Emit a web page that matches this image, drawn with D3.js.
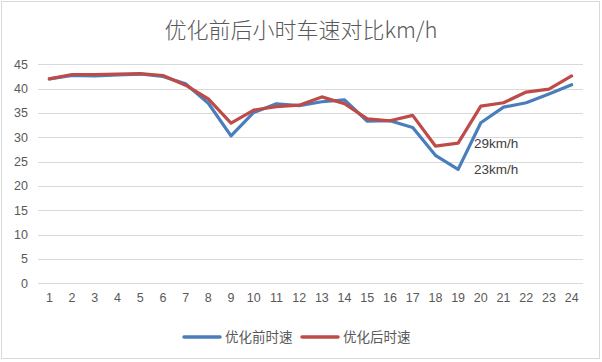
<!DOCTYPE html>
<html lang="zh">
<head>
<meta charset="utf-8">
<title>优化前后小时车速对比km/h</title>
<script src="https://d3js.org/d3.v7.min.js"></script>
<style>
  body { margin: 0; background: #fff; }
  svg text { font-family: "Noto Sans CJK SC", "Noto Sans", sans-serif; }
</style>
</head>
<body>
<svg id="chart" width="602" height="362"></svg>
<script>
// data
var hours = d3.range(1, 25);
var beforeSpeed = [42.0, 42.7, 42.6, 42.8, 43.0, 42.5, 41.0, 37.0, 30.3, 35.1, 36.9, 36.5,
                   37.3, 37.7, 33.3, 33.4, 32.0, 26.3, 23.4, 33.0, 36.2, 37.1, 38.9, 40.8];
var afterSpeed  = [42.0, 42.9, 42.9, 43.0, 43.1, 42.7, 40.7, 37.9, 32.9, 35.6, 36.3, 36.6,
                   38.3, 36.9, 33.8, 33.4, 34.5, 28.2, 28.8, 36.4, 37.1, 39.3, 39.9, 42.6];
var yTicks = [0, 5, 10, 15, 20, 25, 30, 35, 40, 45];
var seriesNames = ["优化前时速", "优化后时速"];
var seriesColors = ["#4a7ebb", "#be4b48"];
var notes = [{text: "29km/h", hour: 19, value: 28.8}, {text: "23km/h", hour: 19, value: 23.4}];

var svg = d3.select("#chart");

// outer frame
svg.append("rect")
    .attr("x", 1.5).attr("y", 1.5)
    .attr("width", 598).attr("height", 357)
    .attr("fill", "#fff")
    .attr("stroke", "#d9d9d9");

svg.append("text")
    .attr("x", 301).attr("y", 38)
    .attr("text-anchor", "middle")
    .attr("font-size", 22)
    .attr("font-weight", 300)
    .attr("fill", "#595959")
    .text("优化前后小时车速对比km/h");

var plotLeft = 38, plotRight = 583, plotTop = 64.3, plotBottom = 283.3;

var x = d3.scaleBand()
    .domain(hours)
    .range([plotLeft, plotRight]);

var y = d3.scaleLinear()
    .domain([0, 45])
    .range([plotBottom, plotTop]);

// grid lines
svg.append("g")
    .selectAll("line")
    .data(yTicks)
    .join("line")
    .attr("x1", plotLeft).attr("x2", plotRight)
    .attr("y1", function(d) { return Math.round(y(d)) + 0.5; })
    .attr("y2", function(d) { return Math.round(y(d)) + 0.5; })
    .attr("stroke", "#d9d9d9");

// y axis
var yAxis = svg.append("g")
    .attr("transform", "translate(" + plotLeft + ",0)")
    .call(d3.axisLeft(y).tickValues(yTicks).tickSize(0).tickPadding(10));
yAxis.select(".domain").remove();
yAxis.selectAll("text")
    .attr("font-size", 12.5)
    .attr("fill", "#595959")
    .style("font-family", "'Liberation Sans', sans-serif");

// x axis
var xAxis = svg.append("g")
    .attr("transform", "translate(0," + plotBottom + ")")
    .call(d3.axisBottom(x).tickSize(0).tickPadding(10));
xAxis.select(".domain").remove();
xAxis.selectAll("text")
    .attr("font-size", 12.5)
    .attr("fill", "#595959")
    .style("font-family", "'Liberation Sans', sans-serif");

var line = d3.line()
    .x(function(d, i) { return x(hours[i]) + x.bandwidth() / 2; })
    .y(function(d) { return y(d); });

[beforeSpeed, afterSpeed].forEach(function(values, i) {
    svg.append("path")
        .datum(values)
        .attr("fill", "none")
        .attr("stroke", seriesColors[i])
        .attr("stroke-width", 3.2)
        .attr("stroke-linejoin", "round")
        .attr("stroke-linecap", "round")
        .attr("d", line);
});

// data notes
svg.append("g")
    .selectAll("text")
    .data(notes)
    .join("text")
    .attr("x", function(d) { return x(d.hour) + x.bandwidth() / 2 + 16; })
    .attr("y", function(d) { return y(d.value) + 4.5; })
    .attr("font-size", 13.5)
    .attr("fill", "#404040")
    .style("font-family", "'Liberation Sans', sans-serif")
    .text(function(d) { return d.text; });

// legend
var legend = svg.append("g").attr("transform", "translate(184,337)");
seriesNames.forEach(function(name, i) {
    var g = legend.append("g").attr("transform", "translate(" + (i * 118) + ",0)");
    g.append("line")
        .attr("x1", 0).attr("x2", 36)
        .attr("stroke", seriesColors[i])
        .attr("stroke-width", 3.5)
        .attr("stroke-linecap", "round");
    g.append("text")
        .attr("x", 41).attr("y", 5)
        .attr("font-size", 13.5)
        .attr("fill", "#595959")
        .text(name);
});
</script>
</body>
</html>
